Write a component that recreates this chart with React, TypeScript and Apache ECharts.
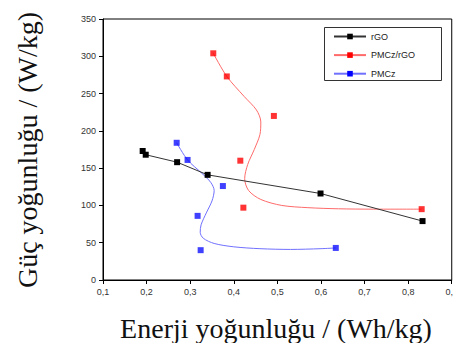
import React, { useEffect, useRef } from "react";
import * as echarts from "echarts";

// Measured points
const rgoX = [0.191, 0.198, 0.27, 0.34, 0.599, 0.833];
const rgoY = [173, 168, 158, 141, 116, 79];

const pmczRgoX = [0.353, 0.384, 0.492, 0.415, 0.422, 0.831];
const pmczRgoY = [304, 273, 220, 160, 97, 95];

const pmczX = [0.269, 0.294, 0.375, 0.317, 0.324, 0.634];
const pmczY = [184, 161, 126, 86, 40, 43];

// Smoothed guide curves
const pmczRgoCurveX = [0.353, 0.384, 0.424, 0.452, 0.462, 0.46, 0.447, 0.432, 0.425, 0.434, 0.462, 0.51, 0.57, 0.64, 0.72, 0.831];
const pmczRgoCurveY = [304, 273, 246, 228, 212, 195, 175, 155, 136, 120, 108, 100, 97, 95.5, 95, 95];

const pmczCurveX = [0.269, 0.294, 0.327, 0.347, 0.355, 0.35, 0.337, 0.325, 0.323, 0.33, 0.355, 0.4, 0.46, 0.53, 0.6, 0.634];
const pmczCurveY = [184, 161, 143, 131, 120, 106, 90, 74, 64, 56, 49, 44.5, 42, 41, 42, 43];

const legendNames = ["rGO", "PMCz/rGO", "PMCz"];
const xTitle = "Enerji yoğunluğu / (Wh/kg)";
const yTitle = "Güç yoğunluğu / (W/kg)";

const zip = (xs: number[], ys: number[]) => xs.map((x, i) => [x, ys[i]]);

export default function App() {
  const ref = useRef<HTMLDivElement>(null);
  useEffect(() => {
    if (!ref.current) return;
    const chart = echarts.init(ref.current, null, { renderer: "svg" });
    const tickFont = { fontFamily: "Liberation Sans, Arial", fontSize: 9, color: "#333" };
    chart.setOption({
      animation: false,
      backgroundColor: "#fff",
      grid: {
        left: 103,
        right: 3,
        top: 19,
        bottom: 71,
        show: true,
        borderColor: "#000",
        borderWidth: 1,
      },
      xAxis: {
        type: "value",
        min: 0.1,
        max: 0.9,
        interval: 0.1,
        axisLine: { onZero: false, lineStyle: { color: "#000", width: 1 } },
        axisTick: { show: true, inside: false, length: 4, lineStyle: { color: "#000" } },
        splitLine: { show: false },
        axisLabel: {
          ...tickFont,
          margin: 7,
          formatter: (v: number) => v.toFixed(1).replace(".", ","),
        },
      },
      yAxis: {
        type: "value",
        min: 0,
        max: 350,
        interval: 50,
        axisLine: { onZero: false, lineStyle: { color: "#000", width: 1 } },
        axisTick: { show: true, inside: false, length: 4, lineStyle: { color: "#000" } },
        splitLine: { show: false },
        axisLabel: { ...tickFont, margin: 7 },
      },
      legend: {
        data: legendNames,
        orient: "vertical",
        left: 333,
        top: 32,
        itemWidth: 32,
        itemHeight: 7,
        itemGap: 9.6,
        textStyle: { fontFamily: "Liberation Sans, Arial", fontSize: 9, color: "#222" },
        padding: 0,
      },
      graphic: [
        {
          type: "rect",
          shape: { x: 324.5, y: 27.5, width: 117, height: 53 },
          style: { fill: "none", stroke: "#333", lineWidth: 1 },
          z: 10,
        },
        {
          type: "text",
          x: 276,
          y: 328,
          style: {
            text: xTitle,
            font: "28px 'Liberation Serif', 'Times New Roman', serif",
            fill: "#111",
            textAlign: "center",
            textVerticalAlign: "middle",
          },
        },
        {
          type: "text",
          x: 27,
          y: 150,
          rotation: Math.PI / 2,
          style: {
            text: yTitle,
            font: "28px 'Liberation Serif', 'Times New Roman', serif",
            fill: "#111",
            textAlign: "center",
            textVerticalAlign: "middle",
          },
        },
      ],
      series: [
        {
          name: "rGO",
          type: "line",
          data: zip(rgoX, rgoY),
          symbol: "rect",
          symbolSize: 6,
          itemStyle: { color: "#000" },
          lineStyle: { color: "#333", width: 1 },
          z: 3,
        },
        {
          name: "PMCz/rGO",
          type: "line",
          data: zip(pmczRgoCurveX, pmczRgoCurveY),
          smooth: 0.3,
          symbol: "rect",
          symbolSize: 6,
          showSymbol: false,
          itemStyle: { color: "#ff0000" },
          lineStyle: { color: "#ff6a6a", width: 1 },
          z: 2,
        },
        {
          name: "PMCz/rGO pts",
          type: "scatter",
          data: zip(pmczRgoX, pmczRgoY),
          symbol: "rect",
          symbolSize: 6,
          itemStyle: { color: "#ff0000" },
          z: 4,
        },
        {
          name: "PMCz",
          type: "line",
          data: zip(pmczCurveX, pmczCurveY),
          smooth: 0.3,
          symbol: "rect",
          symbolSize: 6,
          showSymbol: false,
          itemStyle: { color: "#0000ff" },
          lineStyle: { color: "#7070ff", width: 1 },
          z: 2,
        },
        {
          name: "PMCz pts",
          type: "scatter",
          data: zip(pmczX, pmczY),
          symbol: "rect",
          symbolSize: 6,
          itemStyle: { color: "#1010ff" },
          z: 4,
        },
      ],
    });
    return () => chart.dispose();
  }, []);
  return <div ref={ref} style={{ width: 461, height: 351, margin: -8 }} />;
}
